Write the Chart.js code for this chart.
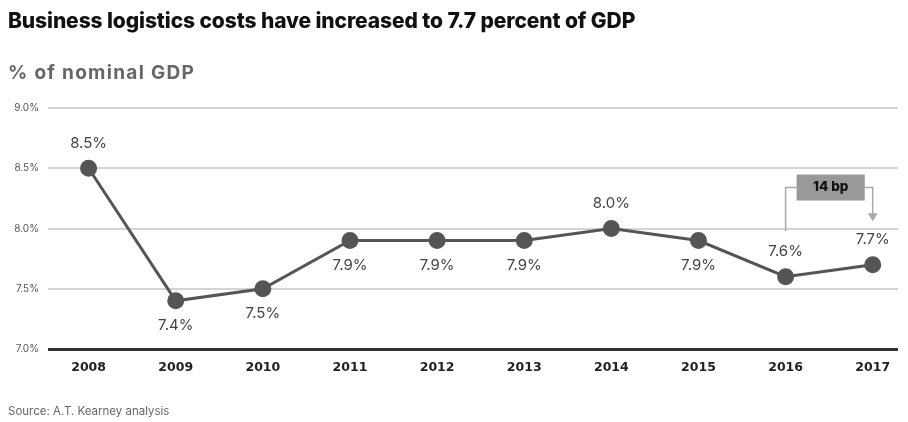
<!DOCTYPE html>
<html>
<head>
<meta charset="utf-8">
<script src="https://cdn.jsdelivr.net/npm/chart.js@4.4.1/dist/chart.umd.min.js"></script>
<style>
  html, body { margin: 0; padding: 0; background: #fff; }
  #wrap { position: relative; width: 908px; height: 422px; overflow: hidden; }
  canvas { position: absolute; left: 0; top: 0; }
  .txt { position: absolute; white-space: nowrap; }
  #title { left: 8px; top: 8px; font: 800 21px Inter, "DejaVu Sans", sans-serif; color: #111; letter-spacing: -0.1px; }
  #subtitle { left: 8px; top: 61px; font: 700 19px Inter, "DejaVu Sans", sans-serif; color: #666; letter-spacing: 1.3px; }
  #source { left: 8px; top: 404px; font: 400 11.5px Inter, "DejaVu Sans", sans-serif; color: #666; }
</style>
</head>
<body>
<div id="wrap">
  <canvas id="chart" width="908" height="422"></canvas>
  <div class="txt" id="title">Business logistics costs have increased to 7.7 percent of GDP</div>
  <div class="txt" id="subtitle">% of nominal GDP</div>
  <div class="txt" id="source">Source: A.T. Kearney analysis</div>
</div>
<script>
// --- DATA ---
const years = [2008, 2009, 2010, 2011, 2012, 2013, 2014, 2015, 2016, 2017];
const costShare = [8.5, 7.4, 7.5, 7.9, 7.9, 7.9, 8.0, 7.9, 7.6, 7.7];
const yTicks = [7.0, 7.5, 8.0, 8.5, 9.0];
const changeLabel = '14 bp';

// labels above or below each point
const labelBelow = [false, true, true, true, true, true, false, true, false, false];

const LINE = '#555555';

// value labels next to each point
const pointLabels = {
    id: 'pointLabels',
    afterDatasetsDraw(chart) {
        const ctx = chart.ctx;
        const meta = chart.getDatasetMeta(0);
        ctx.save();
        ctx.font = '400 15px Inter, "DejaVu Sans", sans-serif';
        ctx.fillStyle = '#444';
        ctx.textAlign = 'center';
        ctx.textBaseline = 'middle';
        meta.data.forEach((pt, i) => {
            const dy = labelBelow[i] ? 25 : -25;
            ctx.fillText(costShare[i].toFixed(1) + '%', pt.x, pt.y + dy);
        });
        ctx.restore();
    }
};

// "14 bp" bracket between the last two years
const bracket = {
    id: 'bracket',
    afterDatasetsDraw(chart) {
        const ctx = chart.ctx;
        const x = chart.scales.x, y = chart.scales.y;
        const x1 = x.getPixelForValue(years[years.length - 2]);
        const x2 = x.getPixelForValue(years[years.length - 1]);
        const top = y.getPixelForValue(8.34);
        const startY = y.getPixelForValue(7.98);
        const endY = y.getPixelForValue(8.06);
        const boxL = x1 + 11, boxR = x2 - 8;
        ctx.save();
        ctx.strokeStyle = '#aaa';
        ctx.lineWidth = 1.5;
        ctx.beginPath();
        ctx.moveTo(x1, startY);
        ctx.lineTo(x1, top);
        ctx.lineTo(boxL, top);
        ctx.moveTo(boxR, top);
        ctx.lineTo(x2, top);
        ctx.lineTo(x2, endY - 6);
        ctx.stroke();
        ctx.fillStyle = '#aaa';
        ctx.beginPath();
        ctx.moveTo(x2 - 5, endY - 8);
        ctx.lineTo(x2 + 5, endY - 8);
        ctx.lineTo(x2, endY);
        ctx.closePath();
        ctx.fill();
        ctx.fillStyle = '#999';
        ctx.fillRect(boxL, top - 13, boxR - boxL, 26);
        ctx.fillStyle = '#111';
        ctx.font = '800 13.5px Inter, "DejaVu Sans", sans-serif';
        ctx.textAlign = 'center';
        ctx.textBaseline = 'middle';
        ctx.fillText(changeLabel, (boxL + boxR) / 2, top - 1);
        ctx.restore();
    }
};

new Chart(document.getElementById('chart'), {
    type: 'line',
    data: {
        datasets: [{
            data: years.map((yr, i) => ({ x: yr, y: costShare[i] })),
            borderColor: LINE,
            backgroundColor: LINE,
            borderWidth: 3,
            pointRadius: 7,
            pointBackgroundColor: LINE,
            pointBorderColor: LINE,
            tension: 0
        }]
    },
    options: {
        responsive: false,
        animation: false,
        layout: { padding: { top: 108, right: 3, left: 0, bottom: 0 } },
        plugins: { legend: { display: false }, tooltip: { enabled: false } },
        scales: {
            x: {
                type: 'linear',
                min: 2007.534,
                max: 2017.29,
                afterBuildTicks: (s) => { s.ticks = years.map(v => ({ value: v })); },
                afterFit: (s) => { s.height = 73; },
                grid: { display: false, drawTicks: false },
                border: { display: false },
                ticks: {
                    padding: 11,
                    color: '#222',
                    font: { family: '"DejaVu Sans", sans-serif', size: 12.5, weight: 'bold' },
                    callback: (v) => String(v)
                }
            },
            y: {
                min: 7,
                max: 9,
                afterBuildTicks: (s) => { s.ticks = yTicks.map(v => ({ value: v })); },
                afterFit: (s) => { s.width = 48; },
                grid: {
                    drawTicks: false,
                    color: (c) => c.tick.value === 7 ? '#333' : '#d4d4d4',
                    lineWidth: (c) => c.tick.value === 7 ? 3 : 2
                },
                border: { display: false },
                ticks: {
                    padding: 9,
                    color: '#555',
                    font: { family: 'Inter, "DejaVu Sans", sans-serif', size: 10 },
                    callback: (v) => v.toFixed(1) + '%'
                }
            }
        }
    },
    plugins: [pointLabels, bracket]
});
</script>
</body>
</html>
